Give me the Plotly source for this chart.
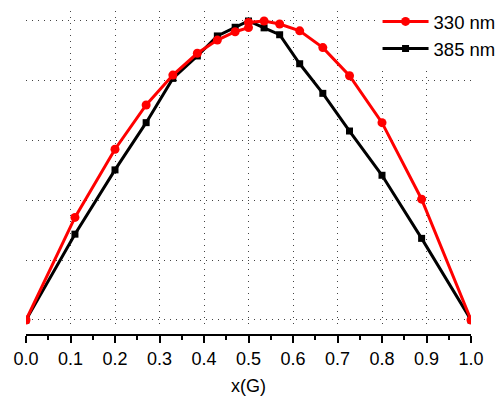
import plotly.graph_objects as go

# Normalised response versus green fraction x(G)
x_330 = [0, 0.11, 0.2, 0.27, 0.33, 0.385, 0.43, 0.47, 0.5, 0.5, 0.535, 0.57, 0.615, 0.667, 0.727, 0.8, 0.889, 1.0]
y_330 = [0, 0.343, 0.571, 0.719, 0.819, 0.892, 0.936, 0.964, 0.978, 0.995, 1.0, 0.99, 0.967, 0.911, 0.817, 0.66, 0.404, 0]

x_385 = [0, 0.11, 0.2, 0.27, 0.33, 0.385, 0.43, 0.47, 0.5, 0.535, 0.57, 0.615, 0.667, 0.727, 0.8, 0.889, 1.0]
y_385 = [0, 0.287, 0.502, 0.66, 0.808, 0.883, 0.95, 0.979, 1.0, 0.977, 0.954, 0.857, 0.758, 0.632, 0.484, 0.273, 0]

x_ticks = [0.0, 0.1, 0.2, 0.3, 0.4, 0.5, 0.6, 0.7, 0.8, 0.9, 1.0]
x_ticktext = [f"{v:.1f}" for v in x_ticks]

FONT = "Liberation Sans, Arial, sans-serif"

fig = go.Figure()
fig.add_trace(go.Scatter(
    x=x_385, y=y_385, name="385 nm", mode="lines+markers",
    line=dict(color="#000000", width=3),
    marker=dict(symbol="square", size=7, color="#000000"),
))
fig.add_trace(go.Scatter(
    x=x_330, y=y_330, name="330 nm", mode="lines+markers",
    line=dict(color="#ff0000", width=3),
    marker=dict(symbol="circle", size=9, color="#ff0000"),
))

grid = dict(showgrid=True, gridcolor="#444444", griddash="1.3px,4.7px", gridwidth=1.3)

fig.update_layout(
    width=497, height=396,
    margin=dict(l=25.5, r=25.6, t=11, b=61, autoexpand=False),
    paper_bgcolor="white", plot_bgcolor="white",
    font=dict(family=FONT, size=18, color="#000000"),
    showlegend=True,
    legend=dict(
        x=0.79, xanchor="left", y=1.025, yanchor="top",
        xref="paper", yref="paper",
        traceorder="reversed",
        bgcolor="white", borderwidth=0,
        font=dict(family=FONT, size=18.5, color="#000000"),
        itemwidth=46, tracegroupgap=0,
    ),
    xaxis=dict(
        range=[0, 1], tickvals=x_ticks, ticktext=x_ticktext,
        anchor="free", position=0,
        showline=True, linecolor="#000000", linewidth=2,
        ticks="outside", ticklen=7, tickwidth=2, tickcolor="#000000",
        minor=dict(dtick=0.05, tick0=0, ticks="outside", ticklen=4, tickwidth=2,
                   tickcolor="#000000", showgrid=False),
        tickfont=dict(family=FONT, size=18),
        title=dict(text="x(G)", font=dict(family=FONT, size=18), standoff=12),
        zeroline=False,
        automargin=False,
        **grid,
    ),
    yaxis=dict(
        range=[-0.0268, 1.0334], domain=[0.0216, 1],
        tick0=0, dtick=0.2,
        showticklabels=False, ticks="", showline=False, zeroline=False,
        automargin=False,
        **grid,
    ),
    shapes=[dict(
        type="rect", xref="paper", yref="paper",
        x0=0.785, x1=1.06, y0=0.77, y1=1.04,
        fillcolor="white", line=dict(width=0), layer="between",
    )],
)

fig.write_html("out.html")
